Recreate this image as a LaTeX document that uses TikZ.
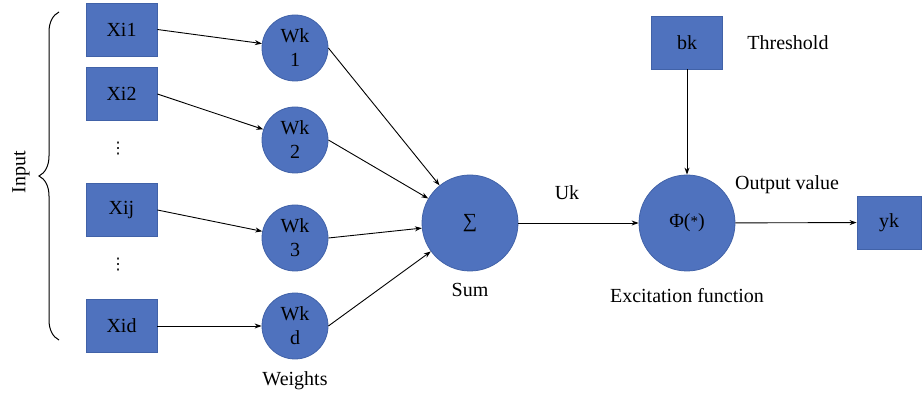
\documentclass[tikz,border=0pt]{standalone}
\usepackage{fontspec}
\setmainfont{Liberation Serif}
\newfontfamily\dvfont{DejaVu Sans}
\usetikzlibrary{arrows.meta,decorations.pathreplacing}
\definecolor{nfill}{RGB}{79,114,190}
\definecolor{nline}{RGB}{65,98,168}
\tikzset{
  box/.style={draw=nline,fill=nfill,line width=0.8pt,minimum width=71pt,minimum height=53pt,inner sep=0pt,font=\fontsize{20}{22}\selectfont},
  wcirc/.style={circle,draw=nline,fill=nfill,line width=0.8pt,minimum size=66pt,inner sep=0pt,align=center,font=\fontsize{20}{24}\selectfont},
  bigcirc/.style={circle,draw=nline,fill=nfill,line width=0.8pt,minimum size=96pt,inner sep=0pt,font=\fontsize{20}{22}\selectfont},
  lbl/.style={font=\fontsize{20}{22}\selectfont,inner sep=0pt},
  dotslbl/.style={font=\dvfont\fontsize{16}{18}\selectfont,inner sep=0pt},
  conn/.style={draw=black,line width=0.9pt,-{Stealth[length=7pt,width=5pt]}}
}
\begin{document}
\begin{tikzpicture}[x=1pt,y=-1pt]
\useasboundingbox (0,0) rectangle (922,398);
% input boxes
\node[box] (xi1) at (121.5,29.5) {Xi1};
\node[box] (xi2) at (121.5,94) {Xi2};
\node[box] (xij) at (121.5,210) {Xij};
\node[box] (xid) at (121.5,326) {Xid};
\node[dotslbl] (d1) at (118,149) {⋮};
\node[dotslbl] (d2) at (118,265) {⋮};
% weights
\node[wcirc] (wk1) at (295,48) {Wk\\1};
\node[wcirc] (wk2) at (295,140) {Wk\\2};
\node[wcirc] (wk3) at (295,238) {Wk\\3};
\node[wcirc] (wkd) at (295,326) {Wk\\d};
% sum and activation
\node[bigcirc] (sum) at (470,223) {∑};
\node[bigcirc] (phi) at (687,223) {Φ(\raisebox{1pt}{\fontsize{15}{15}\selectfont *})};
\node[box] (bk) at (687,42.5) {bk};
\node[box,minimum width=64pt] (yk) at (889,222.5) {yk};
% labels
\node[lbl] (thr) at (788,43) {Threshold};
\node[lbl] (outv) at (787,185) {Output value};
\node[lbl] (uk) at (567,193) {Uk};
\node[lbl] (suml) at (470,290) {Sum};
\node[lbl] (exc) at (687,296) {Excitation function};
\node[lbl] (wl) at (295,381) {Weights};
\node[lbl,rotate=90] (inp) at (21,172) {Input};
% brace
\coordinate (bb) at (59,340);
\coordinate (bt) at (59,12);
\draw[line width=1pt,decoration={brace,amplitude=20pt,aspect=0.5},decorate] (bb) -- (bt);
% connectors
\draw[conn] (xi1.east) -- (wk1);
\draw[conn] (xi2.east) -- (wk2);
\draw[conn] (xij.east) -- (wk3);
\draw[conn] (xid.east) -- (wkd);
\draw[conn] (wk1.east) -- (sum);
\draw[conn] (wk2.east) -- (sum);
\draw[conn] (wk3.east) -- (sum);
\draw[conn] (wkd.east) -- (sum);
\draw[conn] (sum) -- (phi);
\draw[conn] (bk) -- (phi);
\draw[conn] (phi) -- (yk);
\end{tikzpicture}
\end{document}
